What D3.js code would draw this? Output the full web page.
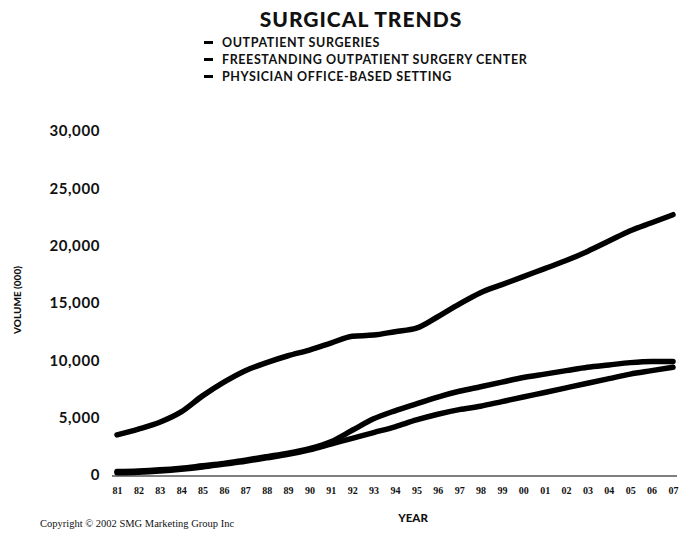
<!DOCTYPE html>
<html lang="en">
<head>
<meta charset="utf-8">
<script src="https://d3js.org/d3.v7.min.js"></script>
<style>
  body { margin: 0; background: #fff; }
  text { font-family: Lato, "DejaVu Sans", sans-serif; fill: #111; }
  .title { font-size: 21px; font-weight: 900; letter-spacing: 1px; }
  .legend text { font-size: 12.5px; font-weight: 700; letter-spacing: 0.6px; }
  .yaxis text { font-size: 15px; font-weight: 700; letter-spacing: 0.6px; }
  .xaxis text { font-size: 10px; font-weight: 900; font-family: "Liberation Serif", serif; }
  .series { fill: none; stroke: #000; stroke-width: 5.5px; stroke-linecap: round; stroke-linejoin: round; }
</style>
</head>
<body>
<svg width="694" height="536"></svg>
<script>
// year labels along the bottom (1981 - 2007)
var years = ["81","82","83","84","85","86","87","88","89","90","91","92","93","94",
             "95","96","97","98","99","00","01","02","03","04","05","06","07"];

// volumes in thousands
var outpatient = [3500,4000,4600,5500,6900,8100,9100,9800,10400,10900,11500,12100,12200,12500,
                  12800,13800,14900,15900,16600,17300,18000,18700,19500,20400,21300,22000,22700];
var freestanding = [300,350,450,600,800,1000,1300,1600,1900,2300,2900,3900,4900,5600,
                    6200,6800,7300,7700,8100,8500,8800,9100,9400,9600,9800,9900,9900];
var physician = [200,250,350,500,700,950,1200,1500,1800,2200,2700,3200,3700,4200,
                 4800,5300,5700,6000,6400,6800,7200,7600,8000,8400,8800,9100,9400];

var seriesNames = ["OUTPATIENT SURGERIES", "FREESTANDING OUTPATIENT SURGERY CENTER", "PHYSICIAN OFFICE-BASED SETTING"];
var yTicks = [0, 5000, 10000, 15000, 20000, 25000, 30000];

var svg = d3.select("svg");

var x = d3.scalePoint().domain(years).range([117, 673]);
var y = d3.scaleLinear().domain([0, 30000]).range([475, 131]);

// title
svg.append("text").attr("class", "title")
  .attr("x", 361).attr("y", 27).attr("text-anchor", "middle")
  .text("SURGICAL TRENDS");

// legend
var legend = svg.append("g").attr("class", "legend");
seriesNames.forEach(function (name, i) {
  var ly = 47 + i * 17;
  legend.append("line")
    .attr("x1", 204).attr("x2", 213).attr("y1", ly - 4.5).attr("y2", ly - 4.5)
    .attr("stroke", "#000").attr("stroke-width", 3);
  legend.append("text").attr("x", 222).attr("y", ly).text(name);
});

// y axis (labels only)
var yAxis = svg.append("g").attr("class", "yaxis")
  .attr("transform", "translate(100,0)")
  .call(d3.axisLeft(y).tickValues(yTicks).tickSize(0).tickPadding(0).tickFormat(d3.format(",")));
yAxis.select(".domain").remove();

svg.append("text")
  .attr("transform", "translate(21,300) rotate(-90)")
  .attr("text-anchor", "middle")
  .style("font-size", "10px").style("font-weight", "900")
  .text("VOLUME (000)");

// x axis
svg.append("line")
  .attr("x1", 112).attr("x2", 677).attr("y1", y(0) + 1).attr("y2", y(0) + 1)
  .attr("stroke", "#000").attr("stroke-width", 1.2);

var xAxis = svg.append("g").attr("class", "xaxis")
  .attr("transform", "translate(0," + (y(0) + 4) + ")")
  .call(d3.axisBottom(x).tickSize(0).tickPadding(8));
xAxis.select(".domain").remove();

svg.append("text")
  .attr("x", 413).attr("y", 522).attr("text-anchor", "middle")
  .style("font-size", "11.5px").style("font-weight", "900")
  .text("YEAR");

svg.append("text")
  .attr("x", 40).attr("y", 527)
  .style("font-family", "'Liberation Serif', serif").style("font-size", "10.5px")
  .text("Copyright © 2002 SMG Marketing Group Inc");

// lines
var line = d3.line()
  .x(function (d, i) { return x(years[i]); })
  .y(function (d) { return y(d); })
  .curve(d3.curveMonotoneX);

[outpatient, freestanding, physician].forEach(function (s) {
  svg.append("path").attr("class", "series").attr("d", line(s));
});
</script>
</body>
</html>
